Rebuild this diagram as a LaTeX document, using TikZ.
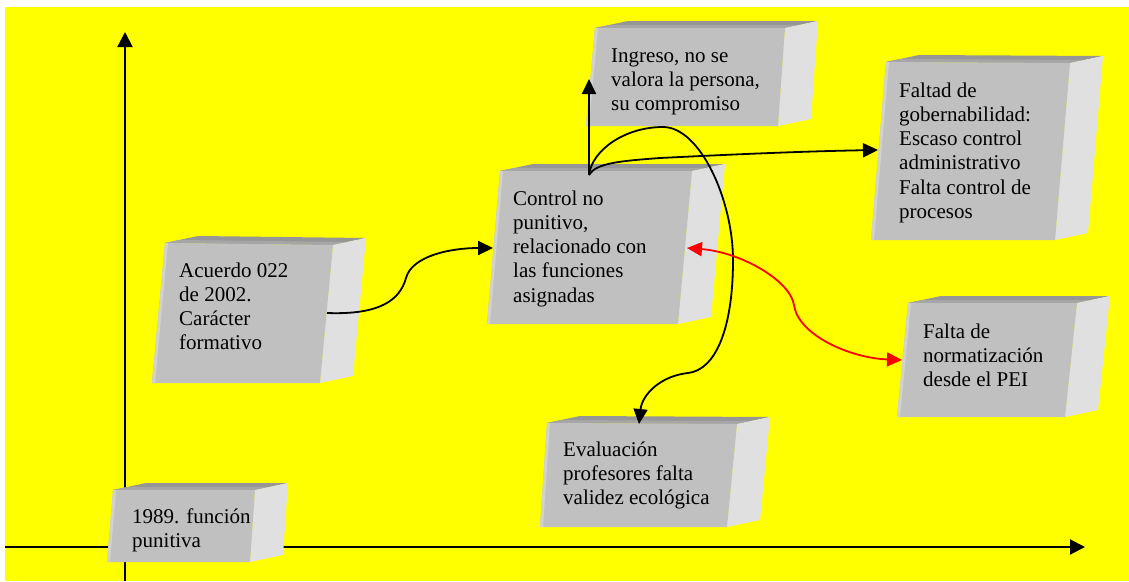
\documentclass[tikz,border=0pt]{standalone}
\usepackage{fontspec}
\setmainfont{Liberation Serif}
\usetikzlibrary{arrows.meta,calc}
\definecolor{bgyel}{HTML}{FFFF00}
\definecolor{frontc}{HTML}{C0C0C0}
\definecolor{topc}{HTML}{969696}
\definecolor{bandc}{HTML}{A6A6A6}
\definecolor{sidec}{HTML}{E0E0E0}
\definecolor{edgec}{HTML}{D2D2D2}
\newcommand\gbox[9]{%
  \coordinate (#1-tl) at (#2,#3);
  \coordinate (#1-tr) at (#4,#5);
  \coordinate (#1-br) at (#6,#7);
  \coordinate (#1-bl) at (#8,#9);
  \fill[topc] (#1-tl) -- ($(#1-tl)+(33,-7)$) -- ($(#1-tr)+(33,-7)$) -- (#1-tr) -- cycle;
  \fill[bandc] (#1-tl) -- ($(#1-tl)+(14,-3)$) -- ($(#1-tr)+(14,-3)$) -- (#1-tr) -- cycle;
  \fill[sidec] (#1-tr) -- ($(#1-tr)+(33,-7)$) -- ($(#1-br)+(33,-7)$) -- (#1-br) -- cycle;
  \fill[frontc] (#1-tl) -- (#1-tr) -- (#1-br) -- (#1-bl) -- cycle;
  \fill[edgec] (#1-tl) -- ($(#1-tl)+(3,0)$) -- ($(#1-bl)+(3,0)$) -- (#1-bl) -- cycle;
}
\tikzset{
  lbl/.style={anchor=base west, inner sep=0pt, text=black, font=\fontsize{21}{24.3}\selectfont},
  axis/.style={line width=2pt, -{Triangle[length=15pt,width=15pt]}},
  conn/.style={line width=1.8pt, -{Triangle[length=15pt,width=14pt]}},
  redconn/.style={line width=1.8pt, red, {Triangle[length=15pt,width=14pt]}-{Triangle[length=15pt,width=14pt]}},
}
\begin{document}
\begin{tikzpicture}[x=1pt,y=-1pt]
\useasboundingbox (0,0) rectangle (1129,581);
\fill[white] (0,0) rectangle (1129,581);
\fill[bgyel] (5,7) rectangle (1129,581);
% axes
\coordinate (yb) at (125,581);
\coordinate (yt) at (125,32);
\coordinate (xl) at (5,547);
\coordinate (xr) at (1085,547);
\draw[axis] (yb) -- (yt);
\draw[axis] (xl) -- (xr);
% boxes
\gbox{ing}{595}{28}{785}{28}{778}{126}{586}{126}
\gbox{ctl}{500}{171}{692}{171}{678}{324}{487}{324}
\gbox{fal}{886}{62}{1070}{63}{1055}{240}{871}{240}
\gbox{acu}{165}{243}{333}{245}{320}{383}{152}{383}
\gbox{nor}{908}{303}{1077}{303}{1065}{417}{897}{417}
\gbox{eva}{547}{423}{737}{424}{727}{527}{540}{527}
\gbox{pun}{113}{490}{255}{490}{250}{562}{107}{562}
% texts
\node[lbl] (acuerdo) at (179,277) {\begin{tabular}[t]{@{}l@{}}Acuerdo 022\\de 2002.\\Carácter\\formativo\end{tabular}};
\node[lbl] (control) at (513,205) {\begin{tabular}[t]{@{}l@{}}Control no\\punitivo,\\relacionado con\\las funciones\\asignadas\end{tabular}};
\node[lbl] (ingreso) at (611,62) {\begin{tabular}[t]{@{}l@{}}Ingreso, no se\\valora la persona,\\su compromiso\end{tabular}};
\node[lbl] (faltad) at (899,97) {\begin{tabular}[t]{@{}l@{}}Faltad de\\gobernabilidad:\\Escaso control\\administrativo\\Falta control de\\procesos\end{tabular}};
\node[lbl] (normat) at (923,338) {\begin{tabular}[t]{@{}l@{}}Falta de\\normatización\\desde el PEI\end{tabular}};
\node[lbl] (evalua) at (563,456) {\begin{tabular}[t]{@{}l@{}}Evaluación\\profesores falta\\validez ecológica\end{tabular}};
\node[lbl] (punit) at (132,523) {\begin{tabular}[t]{@{}l@{}}1989. función\\punitiva\end{tabular}};
% connection points
\coordinate (acR) at (327,313);
\coordinate (ctL) at (493,248);
\coordinate (ctT) at (589,175);
\coordinate (ctR) at (687,248);
\coordinate (ingL) at (589,79);
\coordinate (falL) at (878,150);
\coordinate (norL) at (902,360);
\coordinate (evaT) at (639,424);
% connectors
\draw[conn] (acR) .. controls (380,315) and (400,300) .. (406,278) .. controls (412,256) and (450,248) .. (ctL);
\draw[conn] (ctT) -- (ingL);
\draw[conn] (ctT) .. controls (596,163) and (620,161) .. (660,158) .. controls (760,153) and (820,151) .. (falL);
\draw[conn] (ctT) .. controls (592,150) and (625,127) .. (663,127) .. controls (700,127) and (733,200) .. (733,260) .. controls (733,330) and (715,370) .. (688,373) .. controls (660,376) and (642,395) .. (evaT);
\draw[redconn] (ctR) .. controls (740,252) and (790,280) .. (794,305) .. controls (798,335) and (850,358) .. (norL);
\end{tikzpicture}
\end{document}
